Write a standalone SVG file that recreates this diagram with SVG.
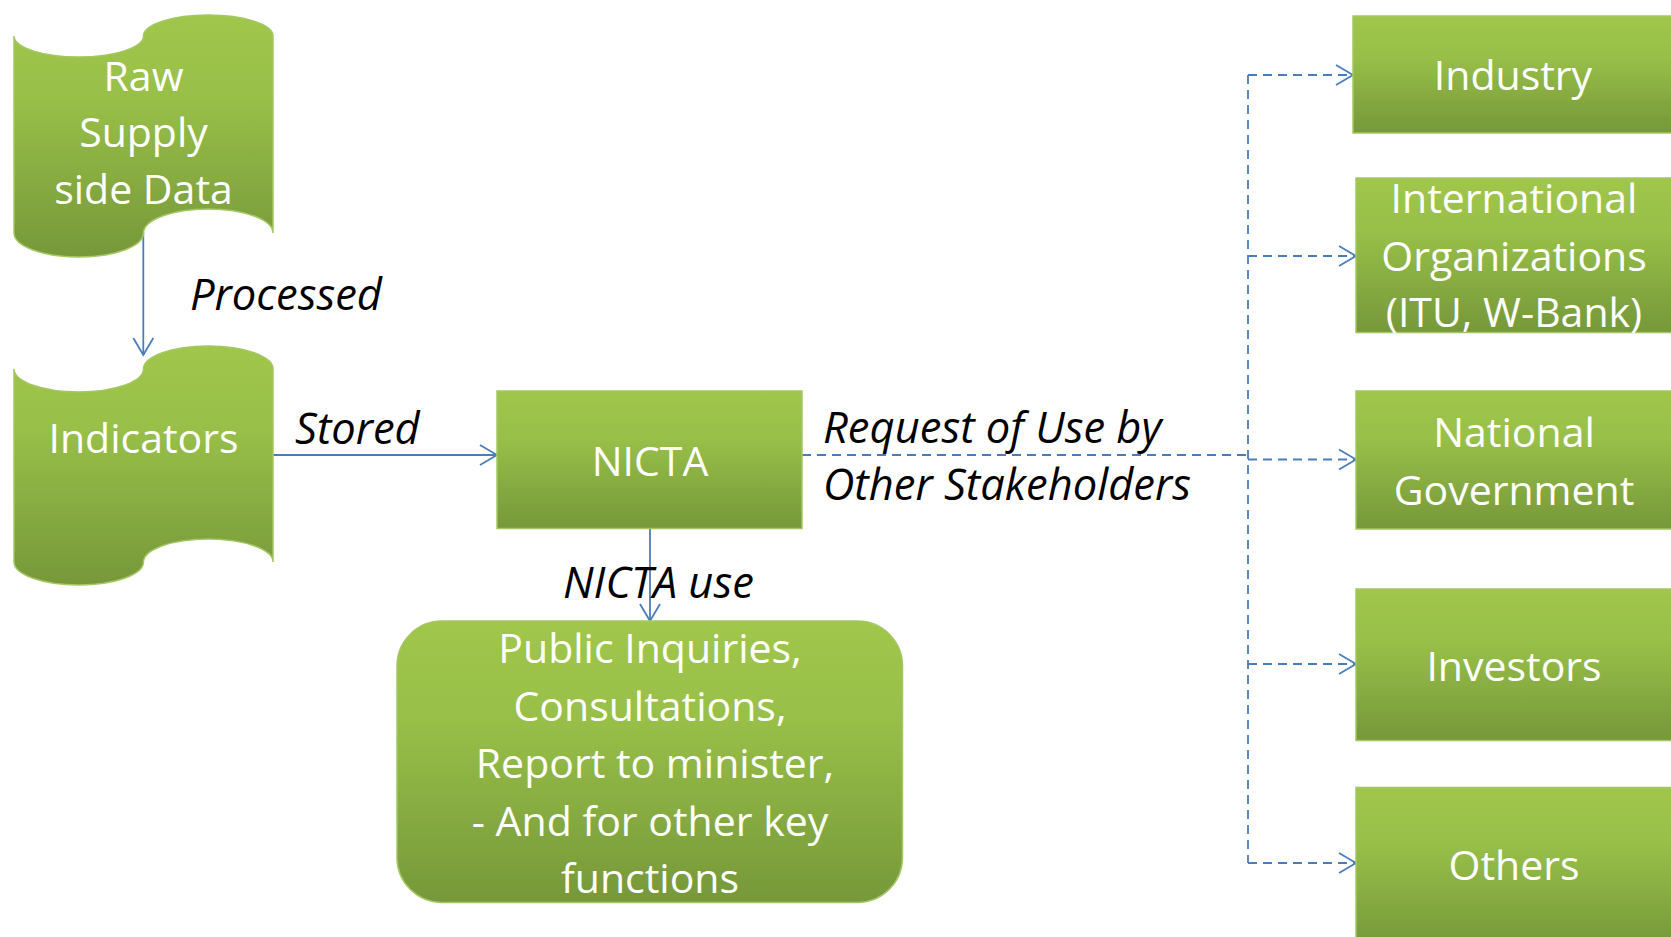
<svg xmlns="http://www.w3.org/2000/svg" width="1671" height="937" viewBox="0 0 1671 937">
  <style>
    .node { stroke: #a4c763; stroke-width: 1.5; fill: url(#greenFill); }
    .ntext { font-family: "Open Sans", "Liberation Sans", sans-serif; font-size: 41px; fill: #ffffff; text-anchor: middle; }
    .label { font-family: "Open Sans", "Liberation Sans", sans-serif; font-size: 43.5px; font-style: italic; fill: #000000; }
    .conn { fill: none; stroke: #4a7ebb; stroke-width: 1.8; }
    .dash { stroke-dasharray: 9 6; }
  </style>
  <defs>
    <linearGradient id="greenFill" x1="0" y1="0" x2="0" y2="1">
      <stop offset="0" stop-color="#a0c64b"/>
      <stop offset="0.35" stop-color="#98bf48"/>
      <stop offset="1" stop-color="#76983a"/>
    </linearGradient>
    <marker id="arrow" markerUnits="userSpaceOnUse" markerWidth="40" markerHeight="40" refX="0" refY="0" orient="auto" overflow="visible">
      <path d="M-17,-10 L0,0 L-17,10" fill="none" stroke="#4a7ebb" stroke-width="1.8" stroke-dasharray="none"/>
    </marker>
  </defs>

  <rect width="1671" height="937" fill="#ffffff"/>

  <!-- connectors -->
  <g id="connectors">
    <line class="conn" x1="143.3" y1="232" x2="143.3" y2="355" marker-end="url(#arrow)"/>
    <line class="conn" x1="273" y1="455" x2="497" y2="455" marker-end="url(#arrow)"/>
    <line class="conn" x1="650" y1="529" x2="650" y2="621" marker-end="url(#arrow)"/>
    <!-- dashed distribution trunk from NICTA -->
    <line class="conn dash" x1="802" y1="455" x2="1248" y2="455"/>
    <line class="conn dash" x1="1248" y1="75" x2="1248" y2="863"/>
    <line class="conn dash" x1="1248" y1="75" x2="1353" y2="75" marker-end="url(#arrow)"/>
    <line class="conn dash" x1="1248" y1="256" x2="1356" y2="256" marker-end="url(#arrow)"/>
    <line class="conn dash" x1="1248" y1="459.5" x2="1356" y2="459.5" marker-end="url(#arrow)"/>
    <line class="conn dash" x1="1248" y1="664" x2="1356" y2="664" marker-end="url(#arrow)"/>
    <line class="conn dash" x1="1248" y1="863" x2="1356" y2="863" marker-end="url(#arrow)"/>
  </g>

  <!-- connector labels -->
  <g id="labels">
    <text class="label" x="190" y="310">Processed</text>
    <text class="label" x="295" y="444">Stored</text>
    <text class="label" x="563" y="598">NICTA use</text>
    <text class="label" x="823" y="443">Request of Use by</text>
    <text class="label" x="823" y="500">Other Stakeholders</text>
  </g>

  <g id="raw-data">
    <path class="node" d="M14,36 A64.75,21 0 0 0 143.5,36 A64.75,21 0 0 1 273,36 L273,233 A64.75,24 0 0 0 143.5,233 A64.75,24 0 0 1 14,233 Z"/>
    <text class="ntext" x="143.5" y="91">Raw</text>
    <text class="ntext" x="143.5" y="147">Supply</text>
    <text class="ntext" x="143.5" y="204">side Data</text>
  </g>

  <g id="indicators">
    <path class="node" d="M14,369 A64.75,23 0 0 0 143.5,369 A64.75,23 0 0 1 273,369 L273,562 A64.75,23 0 0 0 143.5,562 A64.75,23 0 0 1 14,562 Z"/>
    <text class="ntext" x="143.5" y="453">Indicators</text>
  </g>

  <g id="nicta">
    <rect class="node" x="497" y="391" width="305" height="137.5"/>
    <text class="ntext" x="650" y="476">NICTA</text>
  </g>

  <g id="nicta-use">
    <rect class="node" x="397" y="621" width="505.5" height="281.5" rx="45" ry="45"/>
    <text class="ntext" x="650" y="663">Public Inquiries,</text>
    <text class="ntext" x="650" y="721">Consultations,</text>
    <text class="ntext" x="655" y="778">Report to minister,</text>
    <text class="ntext" x="650" y="836">- And for other key</text>
    <text class="ntext" x="650" y="893">functions</text>
  </g>

  <g id="industry">
    <rect class="node" x="1353" y="16" width="322" height="117"/>
    <text class="ntext" x="1513" y="90">Industry</text>
  </g>

  <g id="international">
    <rect class="node" x="1356" y="178" width="319" height="154.5"/>
    <text class="ntext" x="1514" y="213">International</text>
    <text class="ntext" x="1514" y="271">Organizations</text>
    <text class="ntext" x="1514" y="327">(ITU, W-Bank)</text>
  </g>

  <g id="national">
    <rect class="node" x="1356" y="391" width="319" height="138"/>
    <text class="ntext" x="1514" y="447">National</text>
    <text class="ntext" x="1514" y="505">Government</text>
  </g>

  <g id="investors">
    <rect class="node" x="1356" y="589" width="319" height="151.5"/>
    <text class="ntext" x="1514" y="681">Investors</text>
  </g>

  <g id="others">
    <rect class="node" x="1356" y="787.5" width="319" height="160"/>
    <text class="ntext" x="1514" y="880">Others</text>
  </g>
</svg>
